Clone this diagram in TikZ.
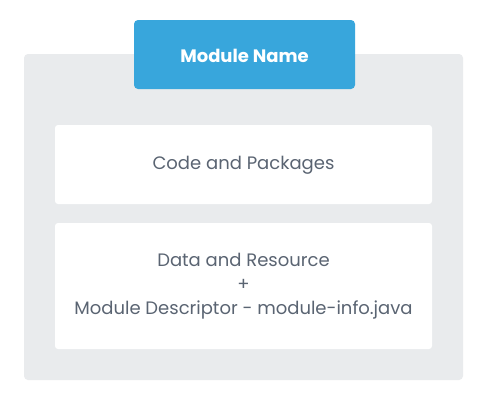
\documentclass[tikz,border=0pt]{standalone}
\usepackage{fontspec}
\setmainfont{Poppins}
\definecolor{bluebox}{HTML}{38A6DC}
\definecolor{graybg}{HTML}{E9EBED}
\definecolor{txtgray}{HTML}{5A6472}
\begin{document}
\begin{tikzpicture}[x=1pt,y=-1pt,
  panel/.style={fill=white,rounded corners=3pt,draw=none},
  lbl/.style={text=txtgray,font=\fontsize{18}{24}\selectfont,align=center}]
\useasboundingbox (0,0) rectangle (487,400);
\fill[white] (0,0) rectangle (487,400);
\fill[graybg,rounded corners=4pt] (24,54) rectangle (463,380);
\fill[bluebox,rounded corners=4pt] (134,20) rectangle (355,89);
\node[text=white,font=\fontsize{18}{20}\selectfont\bfseries] (title) at (244.5,55.5) {Module Name};
\fill[panel] (55,125) rectangle (432,204);
\node[lbl] (code) at (243.5,165) {Code and Packages};
\fill[panel] (55,223) rectangle (432,349);
\node[lbl] (data) at (243.5,286.5) {Data and Resource\\+\\Module Descriptor - module-info.java};
\end{tikzpicture}
\end{document}
